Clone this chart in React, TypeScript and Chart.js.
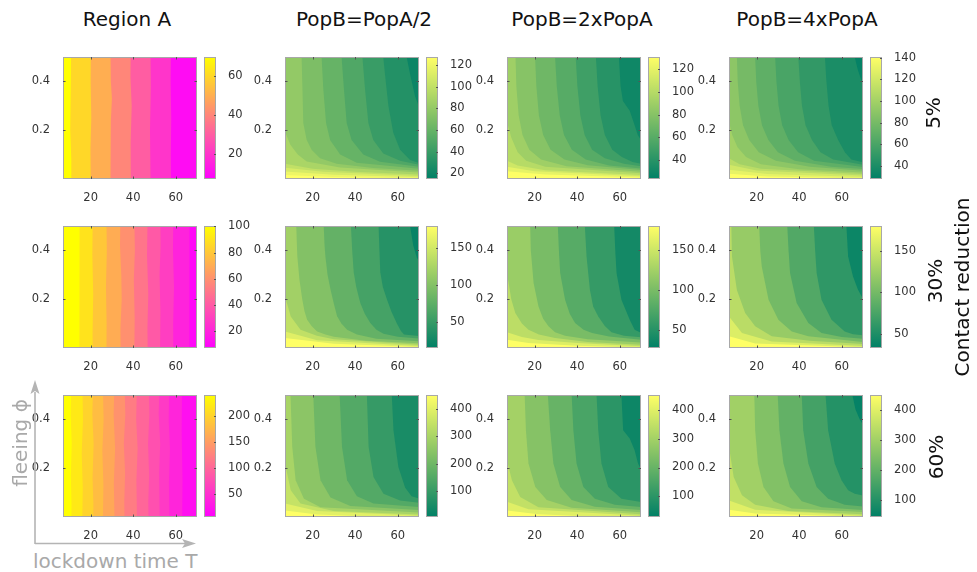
import React, { useEffect, useRef } from 'react';
import { Chart, registerables } from 'chart.js';

Chart.register(...registerables);

type Pt = [number, number];

// ---------------- axes ----------------
const T_MIN = 7;
const T_MAX = 70;
const PHI_MIN = 0;
const PHI_MAX = 0.5;
const T_TICKS = [20, 40, 60];
const PHI_TICKS = [0.2, 0.4];

// ---------------- texts ----------------
const COLUMN_TITLES = ['Region A', 'PopB=PopA/2', 'PopB=2xPopA', 'PopB=4xPopA'];
const ROW_LABELS = ['5%', '30%', '60%'];
const SIDE_LABEL = 'Contact reduction';
const X_NOTE = 'lockdown time T';
const Y_NOTE = 'fleeing \u03D5';

// ---------------- Region A (contour boundaries as [T, phi]) ----------------
const A1_LEVELS = [10, 20, 30, 40, 50, 60];
const A1_RANGE = [7, 70];
const A1_TICKS = [20, 40, 60];
const A1_CURVES: Pt[][] = [
  [[57.8, 0.55], [57.6, 0.4], [57.9, 0.25], [57.7, 0.1], [57.8, -0.05]],
  [[48.1, 0.55], [48.3, 0.38], [47.9, 0.2], [48.2, -0.05]],
  [[38.9, 0.55], [38.7, 0.42], [39.3, 0.3], [38.8, 0.15], [38.9, -0.05]],
  [[29.3, 0.55], [29.5, 0.4], [30.0, 0.33], [29.5, 0.24], [29.2, 0.1], [29.4, -0.05]],
  [[20.1, 0.55], [20.0, 0.4], [20.3, 0.25], [19.9, 0.12], [20.1, -0.05]],
  [[10.8, 0.55], [10.7, 0.42], [10.3, 0.3], [10.5, 0.2], [10.9, 0.08], [10.9, -0.05]],
];

const A2_LEVELS = [10, 20, 30, 40, 50, 60, 70, 80, 90];
const A2_RANGE = [7.4, 100.3];
const A2_TICKS = [20, 40, 60, 80, 100];
const A2_CURVES: Pt[][] = [
  [[66.5, 0.55], [66.3, 0.3], [66.6, -0.05]],
  [[58.9, 0.55], [58.7, 0.4], [59.2, 0.25], [58.8, 0.1], [58.9, -0.05]],
  [[52.7, 0.55], [52.9, 0.42], [52.4, 0.3], [52.8, 0.15], [52.6, -0.05]],
  [[46.8, 0.55], [46.5, 0.38], [47.1, 0.22], [46.7, 0.08], [46.9, -0.05]],
  [[40.5, 0.55], [40.8, 0.4], [40.3, 0.28], [40.7, 0.12], [40.5, -0.05]],
  [[34.0, 0.55], [33.8, 0.42], [34.4, 0.3], [34.6, 0.2], [34.0, 0.08], [34.1, -0.05]],
  [[27.4, 0.55], [27.6, 0.4], [27.2, 0.25], [27.5, 0.1], [27.4, -0.05]],
  [[21.0, 0.55], [20.8, 0.38], [21.2, 0.22], [20.9, 0.06], [21.0, -0.05]],
  [[14.8, 0.55], [14.6, 0.4], [14.9, 0.25], [14.6, 0.12], [14.8, -0.05]],
];

const A3_LEVELS = [20, 40, 60, 80, 100, 120, 140, 160, 180, 200, 220];
const A3_RANGE = [6.5, 240];
const A3_TICKS = [50, 100, 150, 200];
const A3_CURVES: Pt[][] = [
  [[63.0, 0.55], [62.8, 0.35], [63.2, 0.15], [63.0, -0.05]],
  [[57.0, 0.55], [56.7, 0.4], [57.3, 0.28], [56.8, 0.14], [57.1, -0.05]],
  [[52.4, 0.55], [52.0, 0.42], [52.7, 0.3], [52.2, 0.18], [52.6, 0.07], [52.4, -0.05]],
  [[47.3, 0.55], [47.6, 0.42], [47.0, 0.3], [47.5, 0.17], [47.1, 0.06], [47.3, -0.05]],
  [[41.8, 0.55], [41.4, 0.4], [42.1, 0.28], [41.5, 0.15], [41.9, -0.05]],
  [[35.9, 0.55], [36.3, 0.42], [35.6, 0.3], [36.2, 0.18], [35.8, 0.06], [36.0, -0.05]],
  [[31.2, 0.55], [30.8, 0.42], [31.5, 0.28], [30.9, 0.14], [31.3, -0.05]],
  [[25.7, 0.55], [26.1, 0.4], [25.5, 0.27], [26.0, 0.13], [25.7, -0.05]],
  [[21.2, 0.55], [20.8, 0.42], [21.4, 0.3], [20.9, 0.16], [21.3, 0.05], [21.1, -0.05]],
  [[16.1, 0.55], [16.4, 0.4], [15.8, 0.26], [16.3, 0.12], [16.0, -0.05]],
  [[10.9, 0.55], [10.6, 0.42], [11.1, 0.3], [10.7, 0.17], [11.0, 0.05], [10.9, -0.05]],
];

// ---------------- PopB panels, 5% ----------------
const B12_LEVELS = [20, 30, 40, 50, 60, 70, 80, 90, 100, 110, 120];
const B12_RANGE = [14.7, 127.6];
const B12_TICKS = [20, 40, 60, 80, 100, 120];
const B12_CURVES: Pt[][] = [
  [[64.2, 0.5], [65.8, 0.43], [68.1, 0.34], [72, 0.25]],
  [[53.2, 0.5], [54.0, 0.43], [55.6, 0.3], [57.9, 0.19], [61.1, 0.12], [65.8, 0.078], [72, 0.06]],
  [[43.4, 0.5], [44.6, 0.37], [46.2, 0.23], [48.5, 0.16], [53.2, 0.105], [61.1, 0.075], [72, 0.055]],
  [[33.6, 0.5], [34.7, 0.37], [36.0, 0.23], [38.3, 0.16], [43.8, 0.1], [51.7, 0.071], [72, 0.048]],
  [[24.2, 0.5], [25.0, 0.37], [26.3, 0.23], [28.2, 0.16], [32.9, 0.1], [40.7, 0.067], [72, 0.04]],
  [[14.8, 0.5], [15.2, 0.37], [15.6, 0.23], [17.2, 0.16], [19.5, 0.12], [23.5, 0.085], [31.3, 0.062], [48.5, 0.045], [72, 0.033]],
  [[5, 0.2], [7, 0.195], [9.5, 0.14], [13, 0.1], [17.2, 0.072], [32.9, 0.047], [72, 0.026]],
  [[5, 0.065], [7, 0.062], [20, 0.042], [40, 0.03], [72, 0.018]],
  [[5, 0.048], [7, 0.046], [25, 0.03], [72, 0.012]],
  [[5, 0.032], [7, 0.031], [30, 0.017], [72, 0.007]],
  [[5, 0.016], [7, 0.016], [30, 0.008], [72, 0.002]],
];

const B13_LEVELS = [30, 40, 50, 60, 70, 80, 90, 100, 110, 120, 130];
const B13_RANGE = [23.6, 130.4];
const B13_TICKS = [40, 60, 80, 100, 120];
const B13_CURVES: Pt[][] = [
  [[59.6, 0.5], [60.4, 0.38], [61.5, 0.32], [64.7, 0.28], [67.0, 0.22], [68.5, 0.18], [72, 0.13]],
  [[48.8, 0.5], [49.6, 0.38], [51, 0.26], [53, 0.18], [56.5, 0.12], [61, 0.09], [66, 0.07], [72, 0.058]],
  [[39.3, 0.5], [40.1, 0.38], [41.5, 0.26], [43.5, 0.18], [47, 0.12], [53, 0.085], [62, 0.062], [72, 0.05]],
  [[29.6, 0.5], [30.4, 0.38], [31.8, 0.26], [33.8, 0.18], [37.5, 0.12], [44, 0.08], [55, 0.055], [72, 0.042]],
  [[20.2, 0.5], [20.8, 0.38], [22, 0.26], [24, 0.18], [27.5, 0.12], [34, 0.08], [45, 0.056], [72, 0.035]],
  [[11.0, 0.5], [11.4, 0.38], [12.5, 0.26], [14.3, 0.18], [17.5, 0.12], [23, 0.08], [35, 0.052], [72, 0.028]],
  [[5, 0.24], [7, 0.235], [9, 0.17], [12, 0.11], [16, 0.075], [25, 0.05], [72, 0.022]],
  [[5, 0.08], [7, 0.075], [12, 0.055], [25, 0.036], [72, 0.016]],
  [[5, 0.05], [7, 0.05], [20, 0.032], [72, 0.01]],
  [[5, 0.032], [7, 0.032], [25, 0.018], [72, 0.006]],
  [[5, 0.012], [7, 0.012], [20, 0.006], [40, 0.001]],
];

const B14_LEVELS = [30, 40, 50, 60, 70, 80, 90, 100, 110, 120, 130];
const B14_RANGE = [28, 140.5];
const B14_TICKS = [40, 60, 80, 100, 120, 140];
const B14_CURVES: Pt[][] = [
  [[66.1, 0.5], [67.5, 0.45], [69, 0.41], [72, 0.36]],
  [[52.1, 0.5], [52.8, 0.4], [53.8, 0.3], [55.3, 0.22], [58.3, 0.16], [61.5, 0.11], [64.5, 0.08], [72, 0.065]],
  [[39.6, 0.5], [40.3, 0.4], [41.3, 0.3], [43, 0.22], [46, 0.16], [50, 0.11], [56, 0.08], [72, 0.055]],
  [[28.7, 0.5], [29.3, 0.4], [30.3, 0.3], [32, 0.22], [35, 0.16], [39.5, 0.11], [47, 0.075], [72, 0.047]],
  [[19.3, 0.5], [19.8, 0.4], [20.8, 0.3], [22.5, 0.22], [25.5, 0.16], [30, 0.11], [38, 0.075], [55, 0.05], [72, 0.04]],
  [[10.7, 0.5], [11.1, 0.4], [12, 0.3], [13.6, 0.22], [16.5, 0.16], [21, 0.11], [29, 0.075], [45, 0.05], [72, 0.033]],
  [[5, 0.24], [7, 0.235], [8.5, 0.18], [11, 0.13], [15, 0.09], [22, 0.06], [40, 0.04], [72, 0.026]],
  [[5, 0.09], [7, 0.085], [12, 0.06], [22, 0.042], [72, 0.02]],
  [[5, 0.06], [7, 0.058], [20, 0.035], [72, 0.014]],
  [[5, 0.04], [7, 0.038], [25, 0.02], [72, 0.008]],
  [[5, 0.022], [7, 0.022], [25, 0.01], [72, 0.003]],
];

// ---------------- PopB panels, 30% ----------------
const B22_LEVELS = [20, 40, 60, 80, 100, 120, 140, 160];
const B22_RANGE = [15.6, 180];
const B22_TICKS = [50, 100, 150];
const B22_CURVES: Pt[][] = [
  [[65.8, 0.5], [67.3, 0.42], [69, 0.37], [72, 0.33]],
  [[51.0, 0.5], [51.4, 0.4], [51.8, 0.31], [53, 0.25], [54.9, 0.2], [57, 0.15], [59.6, 0.1], [61.5, 0.07], [63, 0.055], [72, 0.047]],
  [[38.0, 0.5], [38.6, 0.4], [39.3, 0.31], [40.5, 0.25], [42.4, 0.184], [44.5, 0.14], [47.1, 0.102], [50, 0.075], [53.3, 0.058], [60, 0.046], [72, 0.037]],
  [[25.2, 0.5], [25.6, 0.42], [26.0, 0.375], [27, 0.3], [28.4, 0.24], [30, 0.18], [31.5, 0.13], [33.5, 0.1], [36.2, 0.075], [40.8, 0.055], [50, 0.038], [72, 0.027]],
  [[12.3, 0.5], [12.6, 0.42], [12.8, 0.375], [13.8, 0.28], [15.1, 0.2], [16.2, 0.15], [17.4, 0.116], [19.5, 0.09], [22.1, 0.068], [26, 0.055], [30, 0.046], [45, 0.03], [72, 0.019]],
  [[5, 0.22], [7, 0.211], [9.7, 0.129], [14.3, 0.075], [22, 0.05], [30, 0.036], [72, 0.012]],
  [[5, 0.07], [7, 0.068], [22.1, 0.032], [72, 0.007]],
  [[5, 0.042], [7, 0.041], [29.9, 0.017], [72, 0.003]],
];

const B23_LEVELS = [40, 60, 80, 100, 120, 140, 160];
const B23_RANGE = [28.2, 180];
const B23_TICKS = [50, 100, 150];
const B23_CURVES: Pt[][] = [
  [[57.4, 0.5], [57.9, 0.4], [58.5, 0.307], [60.8, 0.198], [64.7, 0.116], [67, 0.075], [72, 0.055]],
  [[43.6, 0.5], [44.4, 0.375], [46.0, 0.238], [47.5, 0.17], [49.9, 0.129], [53, 0.09], [56.1, 0.065], [62, 0.05], [72, 0.042]],
  [[30.9, 0.5], [31.4, 0.4], [32.0, 0.307], [34.3, 0.198], [36.5, 0.14], [39.0, 0.102], [43, 0.075], [47, 0.061], [55, 0.047], [72, 0.032]],
  [[17.9, 0.5], [18.2, 0.4], [19.5, 0.266], [21.8, 0.17], [24, 0.12], [26.5, 0.089], [29.6, 0.065], [34.3, 0.05], [45, 0.036], [72, 0.021]],
  [[5, 0.31], [7, 0.307], [9, 0.2], [10.9, 0.143], [14, 0.1], [17.1, 0.075], [22, 0.055], [29.6, 0.041], [45, 0.025], [72, 0.012]],
  [[5, 0.07], [7, 0.065], [14, 0.045], [21.8, 0.033], [40, 0.02], [72, 0.006]],
  [[5, 0.035], [7, 0.034], [17.1, 0.02], [40, 0.009], [72, 0.002]],
];

const B24_LEVELS = [40, 60, 80, 100, 120, 140, 160];
const B24_RANGE = [32.8, 180];
const B24_TICKS = [50, 100, 150];
const B24_CURVES: Pt[][] = [
  [[62.2, 0.5], [63.0, 0.375], [65.3, 0.293], [67.7, 0.238], [72, 0.17]],
  [[46.9, 0.5], [47.5, 0.4], [48.2, 0.307], [50.5, 0.198], [55.2, 0.116], [61.4, 0.068], [65.3, 0.056], [72, 0.05]],
  [[34.4, 0.5], [35, 0.4], [35.7, 0.307], [38.8, 0.184], [44.3, 0.102], [50.5, 0.061], [60, 0.045], [72, 0.037]],
  [[21.2, 0.5], [21.7, 0.4], [22.4, 0.334], [25.6, 0.198], [30.2, 0.116], [36.5, 0.068], [44.3, 0.048], [72, 0.023]],
  [[8.1, 0.5], [8.4, 0.375], [10.7, 0.238], [14.6, 0.143], [19.3, 0.089], [27.1, 0.048], [45, 0.03], [72, 0.015]],
  [[5, 0.14], [7, 0.129], [13.1, 0.061], [27.1, 0.027], [72, 0.007]],
  [[5, 0.05], [7, 0.048], [19.3, 0.018], [72, 0.003]],
];

// ---------------- PopB panels, 60% ----------------
const B32_LEVELS = [50, 100, 150, 200, 250, 300, 350, 400];
const B32_RANGE = [6, 451];
const B32_TICKS = [100, 200, 300, 400];
const B32_CURVES: Pt[][] = [
  [[57.2, 0.5], [58.0, 0.356], [60.3, 0.205], [63.5, 0.12], [66.5, 0.085], [72, 0.07]],
  [[45.5, 0.5], [46.3, 0.288], [48.6, 0.164], [53.3, 0.095], [61.1, 0.068], [72, 0.056]],
  [[32.7, 0.5], [33.8, 0.288], [36.2, 0.151], [40.8, 0.085], [48.6, 0.055], [72, 0.04]],
  [[20.3, 0.5], [21.3, 0.288], [23.7, 0.151], [28.4, 0.08], [37.7, 0.045], [72, 0.028]],
  [[9.6, 0.5], [10.4, 0.288], [12.0, 0.151], [15.9, 0.075], [23.7, 0.04], [72, 0.018]],
  [[5, 0.23], [7, 0.219], [9.7, 0.11], [14.3, 0.055], [29.9, 0.025], [72, 0.009]],
  [[5, 0.06], [7, 0.055], [22.1, 0.025], [72, 0.004]],
  [[5, 0.028], [7, 0.027], [22.1, 0.01], [50, 0.001]],
];

const B33_LEVELS = [50, 100, 150, 200, 250, 300, 350, 400];
const B33_RANGE = [28, 452];
const B33_TICKS = [100, 200, 300, 400];
const B33_CURVES: Pt[][] = [
  [[60.8, 0.5], [61.6, 0.356], [64.7, 0.322], [67.0, 0.274], [68.6, 0.219], [72, 0.16]],
  [[49.1, 0.5], [49.9, 0.356], [51.4, 0.219], [54.6, 0.123], [60.8, 0.075], [72, 0.058]],
  [[37.4, 0.5], [38.2, 0.356], [39.7, 0.219], [42.9, 0.123], [48.3, 0.075], [57.7, 0.05], [72, 0.04]],
  [[26.2, 0.5], [27.3, 0.356], [28.8, 0.219], [32.0, 0.123], [37.4, 0.07], [48.3, 0.042], [72, 0.028]],
  [[15.3, 0.5], [15.9, 0.356], [17.1, 0.219], [20.3, 0.123], [25.7, 0.07], [37.4, 0.038], [72, 0.018]],
  [[5, 0.24], [7, 0.233], [9.3, 0.151], [13.2, 0.082], [21.8, 0.04], [72, 0.01]],
  [[5, 0.065], [7, 0.062], [17.1, 0.032], [72, 0.004]],
  [[5, 0.028], [7, 0.027], [21.8, 0.011], [50, 0.001]],
];

const B34_LEVELS = [50, 100, 150, 200, 250, 300, 350, 400];
const B34_RANGE = [42, 450];
const B34_TICKS = [100, 200, 300, 400];
const B34_CURVES: Pt[][] = [
  [[65, 0.5], [66.5, 0.44], [68.5, 0.4], [72, 0.35]],
  [[52.4, 0.5], [53.6, 0.356], [56.7, 0.219], [59.9, 0.151], [63.0, 0.11], [66.1, 0.095], [72, 0.085]],
  [[41.2, 0.5], [41.9, 0.356], [44.3, 0.219], [48.2, 0.123], [53.6, 0.075], [61.4, 0.05], [72, 0.042]],
  [[29.9, 0.5], [30.7, 0.356], [32.6, 0.219], [35.7, 0.123], [41.2, 0.065], [50.5, 0.04], [72, 0.028]],
  [[18.9, 0.5], [19.3, 0.356], [20.6, 0.219], [23.2, 0.123], [27.9, 0.065], [36.5, 0.035], [72, 0.02]],
  [[5, 0.3], [7, 0.288], [9.2, 0.164], [13.1, 0.089], [19.3, 0.05], [34.9, 0.025], [72, 0.01]],
  [[5, 0.075], [7, 0.068], [19.3, 0.03], [72, 0.004]],
  [[5, 0.033], [7, 0.03], [19.3, 0.014], [72, 0.001]],
];

// ---------------- colormaps (MATLAB spring / summer) ----------------
type Cmap = (t: number) => string;
const spring: Cmap = (t) => `rgb(255,${Math.round(255 * t)},${Math.round(255 * (1 - t))})`;
const summer: Cmap = (t) => `rgb(${Math.round(255 * t)},${Math.round(127.5 + 127.5 * t)},102)`;

interface PanelSpec {
  levels: number[];
  range: number[];
  ticks: number[];
  curves: Pt[][];
  cmap: Cmap;
}

const PANELS: PanelSpec[][] = [
  [
    { levels: A1_LEVELS, range: A1_RANGE, ticks: A1_TICKS, curves: A1_CURVES, cmap: spring },
    { levels: B12_LEVELS, range: B12_RANGE, ticks: B12_TICKS, curves: B12_CURVES, cmap: summer },
    { levels: B13_LEVELS, range: B13_RANGE, ticks: B13_TICKS, curves: B13_CURVES, cmap: summer },
    { levels: B14_LEVELS, range: B14_RANGE, ticks: B14_TICKS, curves: B14_CURVES, cmap: summer },
  ],
  [
    { levels: A2_LEVELS, range: A2_RANGE, ticks: A2_TICKS, curves: A2_CURVES, cmap: spring },
    { levels: B22_LEVELS, range: B22_RANGE, ticks: B22_TICKS, curves: B22_CURVES, cmap: summer },
    { levels: B23_LEVELS, range: B23_RANGE, ticks: B23_TICKS, curves: B23_CURVES, cmap: summer },
    { levels: B24_LEVELS, range: B24_RANGE, ticks: B24_TICKS, curves: B24_CURVES, cmap: summer },
  ],
  [
    { levels: A3_LEVELS, range: A3_RANGE, ticks: A3_TICKS, curves: A3_CURVES, cmap: spring },
    { levels: B32_LEVELS, range: B32_RANGE, ticks: B32_TICKS, curves: B32_CURVES, cmap: summer },
    { levels: B33_LEVELS, range: B33_RANGE, ticks: B33_TICKS, curves: B33_CURVES, cmap: summer },
    { levels: B34_LEVELS, range: B34_RANGE, ticks: B34_TICKS, curves: B34_CURVES, cmap: summer },
  ],
];

// ---------------- layout & style ----------------
const FONT = '"DejaVu Sans", Verdana, sans-serif';
const TICK_FONT = { family: FONT, size: 11.5 };
const TICK_COLOR = '#333333';
const FRAME_COLOR = '#a8a8a8';
const TICKMARK_COLOR = '#555555';
const PLOT_LEFT = [63, 285, 507, 729];
const PLOT_TOP = [57, 226, 395];
const PLOT_W = 134;
const PLOT_H = 122;
const CB_OFFSET = 141;
const CB_W = 12;
const CB_LABEL_W = 40;
const CB_PAD = 8;
const AXIS_W = 40;
const AXIS_H = 22;
const PAD = 5;
const TITLE_X = [127, 364, 582, 807];
const ROW_LABEL_POS = [[933, 113], [935, 281], [936, 457]];
const SIDE_LABEL_POS = [962, 287];

Chart.defaults.font.family = FONT;

const X_OUT = T_MAX + 10;
const X_LOW = T_MIN - 10;
const Y_OUT = PHI_MAX + 0.1;
const Y_LOW = PHI_MIN - 0.1;

// region where value < level: right / above the boundary curve
function regionPolygon(curve: Pt[]) {
  const first = curve[0];
  const last = curve[curve.length - 1];
  const pts = curve.map(([t, p]) => ({ x: t, y: p }));
  pts.push({ x: X_OUT, y: last[1] }, { x: X_OUT, y: Y_OUT }, { x: first[0], y: Y_OUT });
  return pts;
}
function fullPolygon() {
  return [
    { x: X_LOW, y: Y_LOW },
    { x: X_OUT, y: Y_LOW },
    { x: X_OUT, y: Y_OUT },
    { x: X_LOW, y: Y_OUT },
  ];
}

const noPad = (s: any) => {
  s.paddingTop = 0;
  s.paddingBottom = 0;
  s.paddingLeft = 0;
  s.paddingRight = 0;
};

const framePlugin = {
  id: 'plotFrame',
  afterDraw(chart: any) {
    const { ctx, chartArea: a, scales } = chart;
    ctx.save();
    ctx.lineWidth = 1;
    ctx.strokeStyle = FRAME_COLOR;
    ctx.strokeRect(a.left + 0.5, a.top + 0.5, a.right - a.left - 1, a.bottom - a.top - 1);
    ctx.strokeStyle = TICKMARK_COLOR;
    ctx.beginPath();
    for (const v of T_TICKS) {
      const x = Math.round(scales.x.getPixelForValue(v)) + 0.5;
      ctx.moveTo(x, a.bottom);
      ctx.lineTo(x, a.bottom - 2.5);
      ctx.moveTo(x, a.top);
      ctx.lineTo(x, a.top + 2.5);
    }
    for (const v of PHI_TICKS) {
      const y = Math.round(scales.y.getPixelForValue(v)) + 0.5;
      ctx.moveTo(a.left, y);
      ctx.lineTo(a.left + 2.5, y);
      ctx.moveTo(a.right, y);
      ctx.lineTo(a.right - 2.5, y);
    }
    ctx.stroke();
    ctx.restore();
  },
};

const cbFramePlugin = {
  id: 'cbFrame',
  afterDraw(chart: any) {
    const { ctx, chartArea: a, scales } = chart;
    ctx.save();
    ctx.lineWidth = 1;
    ctx.strokeStyle = FRAME_COLOR;
    ctx.strokeRect(a.left + 0.5, a.top + 0.5, a.right - a.left - 1, a.bottom - a.top - 1);
    ctx.strokeStyle = TICKMARK_COLOR;
    ctx.beginPath();
    for (const t of scales.y.ticks) {
      const y = Math.round(scales.y.getPixelForValue(t.value)) + 0.5;
      ctx.moveTo(a.right, y);
      ctx.lineTo(a.right - 2, y);
    }
    ctx.stroke();
    ctx.restore();
  },
};

function ContourPanel({ spec, left, top }: { spec: PanelSpec; left: number; top: number }) {
  const ref = useRef<HTMLCanvasElement>(null);
  useEffect(() => {
    if (!ref.current) return;
    const [cmin, cmax] = spec.range;
    const tOf = (v: number) => Math.min(1, Math.max(0, (v - cmin) / (cmax - cmin)));
    const datasets: any[] = spec.curves.map((curve, i) => ({
      data: regionPolygon(curve),
      backgroundColor: spec.cmap(tOf(spec.levels[i])),
      borderColor: 'rgba(0,0,0,0)',
      borderWidth: 0,
      pointRadius: 0,
      fill: 'shape',
    }));
    datasets.push({
      data: fullPolygon(),
      backgroundColor: spec.cmap(1),
      borderColor: 'rgba(0,0,0,0)',
      borderWidth: 0,
      pointRadius: 0,
      fill: 'shape',
    });
    const chart = new Chart(ref.current, {
      type: 'line',
      data: { datasets },
      options: {
        animation: false,
        responsive: false,
        events: [],
        layout: { padding: { top: PAD, right: PAD, left: 0, bottom: 0 } },
        plugins: {
          legend: { display: false },
          tooltip: { enabled: false },
          filler: { propagate: false },
        },
        scales: {
          x: {
            type: 'linear',
            min: T_MIN,
            max: T_MAX,
            grid: { display: false },
            border: { display: false },
            afterBuildTicks: (s: any) => {
              s.ticks = T_TICKS.map((v) => ({ value: v }));
            },
            afterFit: (s: any) => {
              s.height = AXIS_H;
              noPad(s);
            },
            ticks: {
              font: TICK_FONT,
              color: TICK_COLOR,
              padding: 4,
              maxRotation: 0,
              autoSkip: false,
              callback: (v: any) => String(v),
            },
          },
          y: {
            type: 'linear',
            min: PHI_MIN,
            max: PHI_MAX,
            grid: { display: false },
            border: { display: false },
            afterBuildTicks: (s: any) => {
              s.ticks = PHI_TICKS.map((v) => ({ value: v }));
            },
            afterFit: (s: any) => {
              s.width = AXIS_W;
              noPad(s);
            },
            ticks: {
              font: TICK_FONT,
              color: TICK_COLOR,
              padding: 5,
              autoSkip: false,
              callback: (v: any) => String(v),
            },
          },
        },
      } as any,
      plugins: [framePlugin],
    });
    return () => chart.destroy();
  }, [spec]);
  return (
    <canvas
      ref={ref}
      width={AXIS_W + PLOT_W + PAD}
      height={PAD + PLOT_H + AXIS_H}
      style={{ position: 'absolute', left: left - AXIS_W, top: top - PAD }}
    />
  );
}

function ColorBar({ spec, left, top }: { spec: PanelSpec; left: number; top: number }) {
  const ref = useRef<HTMLCanvasElement>(null);
  useEffect(() => {
    if (!ref.current) return;
    const [cmin, cmax] = spec.range;
    const gradientFor = (c: any) => {
      const chart = c && c.chart;
      const y = chart && chart.scales && chart.scales.y;
      if (!y) return spec.cmap(0.5);
      const y0 = y.getPixelForValue(cmin);
      const y1 = y.getPixelForValue(cmax);
      if (!Number.isFinite(y0) || !Number.isFinite(y1) || y0 === y1) return spec.cmap(0.5);
      const g = chart.ctx.createLinearGradient(0, y0, 0, y1);
      for (let k = 0; k <= 10; k++) g.addColorStop(k / 10, spec.cmap(k / 10));
      return g;
    };
    const chart = new Chart(ref.current, {
      type: 'bar',
      data: {
        labels: [''],
        datasets: [
          {
            data: [[cmin, cmax]] as any,
            borderWidth: 0,
            barPercentage: 1,
            categoryPercentage: 1,
            backgroundColor: gradientFor,
          },
        ],
      },
      options: {
        animation: false,
        responsive: false,
        events: [],
        layout: { padding: { top: CB_PAD, bottom: CB_PAD, left: 0, right: 0 } },
        plugins: { legend: { display: false }, tooltip: { enabled: false } },
        scales: {
          x: { display: false },
          y: {
            position: 'right',
            min: cmin,
            max: cmax,
            grid: { display: false },
            border: { display: false },
            afterBuildTicks: (s: any) => {
              s.ticks = spec.ticks.map((v) => ({ value: v }));
            },
            afterFit: (s: any) => {
              s.width = CB_LABEL_W;
              noPad(s);
            },
            ticks: {
              font: TICK_FONT,
              color: TICK_COLOR,
              padding: 4,
              autoSkip: false,
              callback: (v: any) => String(v),
            },
          },
        },
      } as any,
      plugins: [cbFramePlugin],
    });
    chart.update();
    return () => chart.destroy();
  }, [spec]);
  return (
    <canvas
      ref={ref}
      width={CB_W + CB_LABEL_W}
      height={PLOT_H + 2 * CB_PAD}
      style={{ position: 'absolute', left, top: top - CB_PAD }}
    />
  );
}

const rotated = (x: number, y: number, color: string): React.CSSProperties => ({
  position: 'absolute',
  left: x,
  top: y,
  transform: 'translate(-50%, -50%) rotate(-90deg)',
  whiteSpace: 'nowrap',
  fontSize: 20,
  lineHeight: '20px',
  color,
});

export default function App() {
  return (
    <div
      style={{
        position: 'absolute',
        left: 0,
        top: 0,
        width: 977,
        height: 572,
        background: '#ffffff',
        overflow: 'hidden',
        fontFamily: FONT,
      }}
    >
      {PANELS.map((row, r) =>
        row.map((spec, c) => (
          <React.Fragment key={`${r}-${c}`}>
            <ContourPanel spec={spec} left={PLOT_LEFT[c]} top={PLOT_TOP[r]} />
            <ColorBar spec={spec} left={PLOT_LEFT[c] + CB_OFFSET} top={PLOT_TOP[r]} />
          </React.Fragment>
        ))
      )}
      {COLUMN_TITLES.map((t, c) => (
        <div
          key={t}
          style={{
            position: 'absolute',
            left: TITLE_X[c] - 100,
            top: 9,
            width: 200,
            textAlign: 'center',
            fontSize: 20,
            lineHeight: '20px',
            color: '#111',
            whiteSpace: 'nowrap',
          }}
        >
          {t}
        </div>
      ))}
      {ROW_LABELS.map((t, r) => (
        <div key={t} style={rotated(ROW_LABEL_POS[r][0], ROW_LABEL_POS[r][1], '#111')}>
          {t}
        </div>
      ))}
      <div style={rotated(SIDE_LABEL_POS[0], SIDE_LABEL_POS[1], '#111')}>{SIDE_LABEL}</div>
      <div style={rotated(20, 443, '#a9a9a9')}>{Y_NOTE}</div>
      <div
        style={{
          position: 'absolute',
          left: 33,
          top: 551,
          fontSize: 20,
          lineHeight: '20px',
          color: '#a9a9a9',
          whiteSpace: 'nowrap',
        }}
      >
        {X_NOTE}
      </div>
      <svg
        width={977}
        height={572}
        style={{ position: 'absolute', left: 0, top: 0, pointerEvents: 'none' }}
      >
        <g stroke="#b4b4b4" strokeWidth={1.6} fill="none">
          <line x1={35} y1={544} x2={35} y2={392} />
          <line x1={35} y1={543.5} x2={185} y2={543.5} />
        </g>
        <g fill="#b4b4b4">
          <polygon points="35,380 30.5,394 35,391 39.5,394" />
          <polygon points="196,543.5 182,539 185,543.5 182,548" />
        </g>
      </svg>
    </div>
  );
}
